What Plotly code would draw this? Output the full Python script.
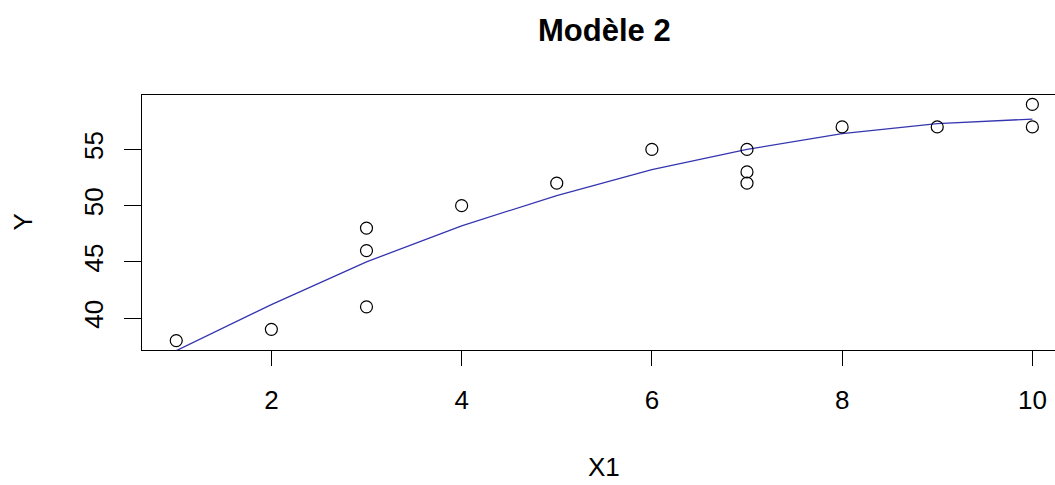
import plotly.graph_objects as go

# Observations
x1 = [1, 2, 3, 3, 3, 4, 5, 6, 7, 7, 7, 8, 9, 10, 10]
y = [38, 39, 48, 46, 41, 50, 52, 55, 55, 53, 52, 57, 57, 59, 57]

# Fitted values of model 2 at each distinct X1
fit_x = [1, 2, 3, 4, 5, 6, 7, 8, 9, 10]
fit_y = [37.1, 41.2, 45.0, 48.2, 50.9, 53.2, 55.0, 56.4, 57.3, 57.7]

x_ticks = [2, 4, 6, 8, 10]
y_ticks = [40, 45, 50, 55]

FONT = "Liberation Sans, Arial, sans-serif"
W, H = 1055, 485
ML, MT, MB = 142, 95, 135

# R-style 4% padding on both axes
xr = [min(x1) - 0.04 * (max(x1) - min(x1)), max(x1) + 0.04 * (max(x1) - min(x1))]
yr = [min(y) - 0.04 * (max(y) - min(y)), max(y) + 0.04 * (max(y) - min(y))]
# the canvas cuts the panel a little before its right edge
px_per_unit = 95.125
x_right = xr[0] + (W - ML) / px_per_unit

fig = go.Figure()
fig.add_trace(go.Scatter(
    x=fit_x, y=fit_y, mode="lines",
    line=dict(color="#3535b0", width=1.3),
    hoverinfo="skip", showlegend=False,
))
fig.add_trace(go.Scatter(
    x=x1, y=y, mode="markers",
    marker=dict(symbol="circle-open", size=12, color="black",
                line=dict(color="black", width=1.2)),
    showlegend=False,
))

fig.update_layout(
    width=W, height=H,
    margin=dict(l=ML, r=0, t=MT, b=MB, pad=0),
    paper_bgcolor="white", plot_bgcolor="white",
    font=dict(family=FONT, size=26, color="black"),
    xaxis=dict(
        range=[xr[0], x_right], tickvals=x_ticks, ticktext=[str(v) for v in x_ticks],
        showgrid=False, zeroline=False,
        showline=True, linecolor="black", linewidth=1.3, mirror=True,
        ticks="outside", ticklen=15, tickwidth=1.2, tickcolor="black",
        ticklabelstandoff=12,
        tickfont=dict(family=FONT, size=26, color="black"),
    ),
    yaxis=dict(
        range=yr, tickvals=y_ticks, ticktext=[str(v) for v in y_ticks],
        showgrid=False, zeroline=False,
        showline=True, linecolor="black", linewidth=1.3, mirror=False,
        ticks="outside", ticklen=17, tickwidth=1.2, tickcolor="black",
        tickangle=-90, ticklabelstandoff=10,
        tickfont=dict(family=FONT, size=26, color="black"),
    ),
)

mid_x = (xr[0] + xr[1]) / 2
mid_y = (yr[0] + yr[1]) / 2

fig.add_annotation(
    text="<b>Modèle 2</b>", x=mid_x, xref="x", y=30, yref="paper",
    yanchor="middle", xanchor="center", showarrow=False,
    font=dict(family=FONT, size=31, color="black"),
)
fig.add_annotation(
    text="X1", x=mid_x, xref="x", y=0, yref="paper",
    yshift=-(467 - (H - MB)), yanchor="middle", xanchor="center", showarrow=False,
    font=dict(family=FONT, size=26, color="black"),
)
fig.add_annotation(
    text="Y", x=0, xref="paper", xshift=-(ML - 22), y=mid_y, yref="y",
    textangle=-90, xanchor="center", yanchor="middle", showarrow=False,
    font=dict(family=FONT, size=26, color="black"),
)

# place the title in pixel terms above the panel
fig.layout.annotations[0].update(y=1, yref="paper", yshift=MT - 30)

fig.write_html("out.html")
